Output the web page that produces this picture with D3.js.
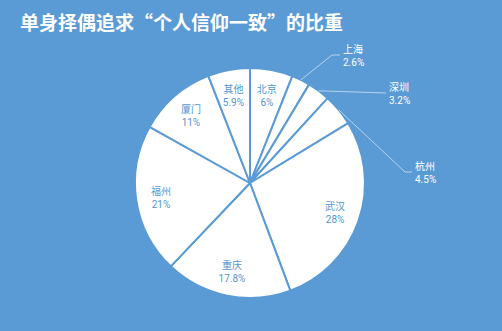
<!DOCTYPE html>
<html>
<head>
<meta charset="utf-8">
<script src="https://cdn.jsdelivr.net/npm/d3@7"></script>
<style>
  body { margin: 0; background: #5b9bd5; }
  svg { display: block; font-family: "Noto Sans CJK SC", "Noto Sans", sans-serif; }
  .pct { font-family: Roboto, "Noto Sans", sans-serif; }
</style>
</head>
<body>
<div id="vis"></div>
<script>
// chart data
var cities = ['北京', '上海', '深圳', '杭州', '武汉', '重庆', '福州', '厦门', '其他'];
var shares = [6, 2.6, 3.2, 4.5, 28, 17.8, 21, 11, 5.9];
var shareLabels = ['6%', '2.6%', '3.2%', '4.5%', '28%', '17.8%', '21%', '11%', '5.9%'];
// small slices get their label outside with a leader line
var outsideCities = ['上海', '深圳', '杭州'];

var width = 502;
var height = 331;
var cx = 250, cy = 183, radius = 115;
var blue = '#5b9bd5';

var svg = d3.select('#vis').append('svg')
  .attr('width', width)
  .attr('height', height);

svg.append('rect')
  .attr('width', width)
  .attr('height', height)
  .attr('fill', blue);

// title
svg.append('text')
  .attr('x', 20)
  .attr('y', 30)
  .attr('fill', '#fff')
  .attr('font-size', 19)
  .attr('font-weight', 'bold')
  .text('单身择偶追求“个人信仰一致”的比重');

var data = cities.map(function(c, i) {
  return {city: c, value: shares[i], label: shareLabels[i]};
});

var pie = d3.pie()
  .sort(null)
  .value(function(d) { return d.value; });

var arcs = pie(data);

var arc = d3.arc()
  .innerRadius(0)
  .outerRadius(radius);

var labelArc = d3.arc()
  .innerRadius(90)
  .outerRadius(90);

var edgeArc = d3.arc()
  .innerRadius(radius)
  .outerRadius(radius);

var g = svg.append('g')
  .attr('transform', 'translate(' + cx + ',' + cy + ')');

g.selectAll('path.slice')
  .data(arcs)
  .enter().append('path')
  .attr('class', 'slice')
  .attr('d', arc)
  .attr('fill', '#fff')
  .attr('stroke', blue)
  .attr('stroke-width', 2)
  .attr('stroke-linejoin', 'round');

// inside labels
var inside = arcs.filter(function(d) { return outsideCities.indexOf(d.data.city) < 0; });
var inLabels = g.selectAll('g.in-label')
  .data(inside)
  .enter().append('g')
  .attr('class', 'in-label')
  .attr('transform', function(d) { return 'translate(' + labelArc.centroid(d) + ')'; })
  .attr('text-anchor', 'middle')
  .attr('fill', '#5596d2')
  .attr('font-size', 10);

inLabels.append('text')
  .attr('y', -2)
  .text(function(d) { return d.data.city; });
inLabels.append('text')
  .attr('class', 'pct')
  .attr('y', 11)
  .text(function(d) { return d.data.label; });

// outside labels: elbow end points relative to centre
var elbows = {
  '上海': [[82, -128], [90, -128]],
  '深圳': [[136, -90], [136, -90]],
  '杭州': [[155, -11], [162, -11]]
};

var outside = arcs.filter(function(d) { return outsideCities.indexOf(d.data.city) >= 0; });

g.selectAll('polyline.leader')
  .data(outside)
  .enter().append('polyline')
  .attr('class', 'leader')
  .attr('fill', 'none')
  .attr('stroke', 'rgba(255,255,255,0.55)')
  .attr('stroke-width', 1)
  .attr('points', function(d) {
    var p = edgeArc.centroid(d);
    var e = elbows[d.data.city];
    return [p, e[0], e[1]].map(function(q) { return q.join(','); }).join(' ');
  });

var outLabels = g.selectAll('g.out-label')
  .data(outside)
  .enter().append('g')
  .attr('class', 'out-label')
  .attr('transform', function(d) {
    var e = elbows[d.data.city][1];
    return 'translate(' + (e[0] + 3) + ',' + e[1] + ')';
  })
  .attr('fill', '#fff')
  .attr('font-size', 10);

outLabels.append('text')
  .attr('y', -2)
  .text(function(d) { return d.data.city; });
outLabels.append('text')
  .attr('class', 'pct')
  .attr('y', 11)
  .text(function(d) { return d.data.label; });
</script>
</body>
</html>
